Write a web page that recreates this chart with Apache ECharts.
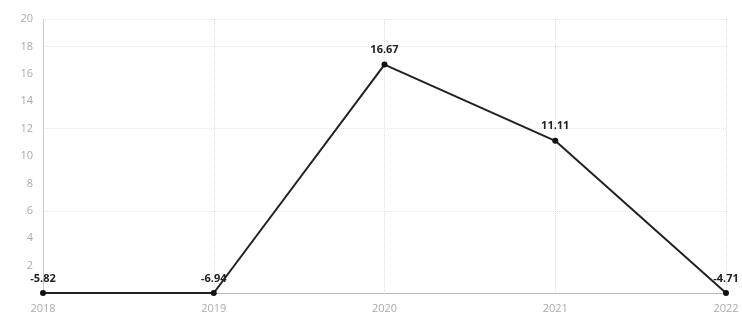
<!DOCTYPE html>
<html><head><meta charset="utf-8">
<script src="https://cdn.jsdelivr.net/npm/echarts@6/dist/echarts.min.js"></script>
<style>html,body{margin:0;padding:0;background:#fff}#c{width:742px;height:320px}</style>
</head><body><div id="c"></div>
<script>
const categories = ['2018', '2019', '2020', '2021', '2022'];
const values = [-5.82, -6.94, 16.67, 11.11, -4.71];
const yMin = 0, yMax = 20, yInterval = 2;

// The original chart pins values below the axis floor to the floor.
const plotted = values.map(v => ({ value: Math.max(yMin, v), label: v }));

const chart = echarts.init(document.getElementById('c'), null, { renderer: 'canvas' });
chart.setOption({
  animation: false,
  grid: { left: 43, right: 16, top: 19, bottom: 27, containLabel: false },
  xAxis: {
    type: 'category', data: categories, boundaryGap: false,
    axisLine: { show: true, lineStyle: { color: '#bbb', width: 1 } },
    axisTick: { show: false },
    axisLabel: { color: '#aaa', fontSize: 11, fontFamily: 'Open Sans', margin: 10 },
    splitLine: { show: true, lineStyle: { color: '#ddd', type: 'dotted', width: 1 } }
  },
  yAxis: [{
    type: 'value', min: yMin, max: yMax, interval: yInterval,
    axisLine: { show: true, lineStyle: { color: '#ccc', width: 1 } },
    axisTick: { show: false },
    axisLabel: { color: '#aaa', fontSize: 11, fontFamily: 'Open Sans', margin: 10, showMinLabel: false },
    splitLine: { show: false }
  }, {
    type: 'value', min: 0, max: 20, interval: 6, position: 'left',
    axisLine: { show: false }, axisTick: { show: false }, axisLabel: { show: false },
    splitLine: { show: true, lineStyle: { color: '#e6e6e6', type: 'dotted', width: 1 } }
  }],
  series: [{
    type: 'line', yAxisIndex: 0,
    data: plotted.map(d => d.value),
    symbol: 'circle', symbolSize: 6,
    itemStyle: { color: '#111' },
    lineStyle: { color: '#222', width: 2 },
    clip: false,
    label: {
      show: true, position: 'top', distance: 6,
      color: '#222', fontSize: 11, fontWeight: 'bold', fontFamily: 'Open Sans',
      formatter: p => String(plotted[p.dataIndex].label)
    }
  }]
});
</script></body></html>
